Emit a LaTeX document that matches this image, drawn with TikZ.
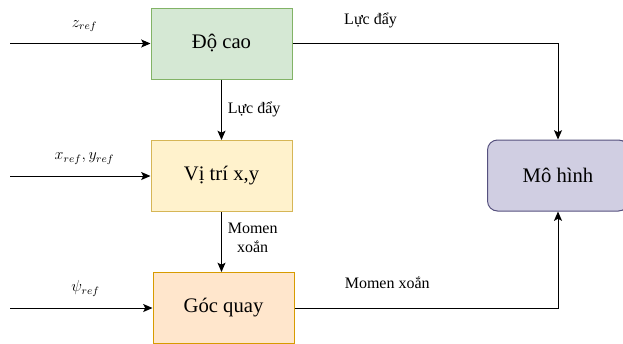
\documentclass[tikz,border=0pt]{standalone}
\usepackage{fontspec}
\setmainfont{Liberation Serif}
\usetikzlibrary{arrows.meta}
\definecolor{greenfill}{HTML}{D5E8D4}
\definecolor{greenline}{HTML}{82B366}
\definecolor{yellowfill}{HTML}{FFF2CC}
\definecolor{yellowline}{HTML}{D6B656}
\definecolor{orangefill}{HTML}{FFE6CC}
\definecolor{orangeline}{HTML}{D79B00}
\definecolor{purplefill}{HTML}{D0CEE2}
\definecolor{purpleline}{HTML}{56517E}
\begin{document}
\begin{tikzpicture}[>={Stealth[length=7pt,width=6pt,inset=1.5pt]}, x=0.75pt, y=-0.75pt,
    block/.style={draw, line width=0.75pt, minimum width=105.75pt,
        minimum height=53.25pt, font=\fontsize{15.5}{18}\selectfont},
    lbl/.style={font=\fontsize{12}{14}\selectfont},
    conn/.style={->, line width=0.75pt}]
    \useasboundingbox (0,0) rectangle (623,343);

    % blocks
    \node[block, fill=greenfill, draw=greenline] (docao) at (221.5,43.5) {Độ cao};
    \node[block, fill=yellowfill, draw=yellowline] (vitri) at (221.5,176) {Vị trí x,y};
    \node[block, fill=orangefill, draw=orangeline] (gocquay) at (223.5,308) {Góc quay};
    \node[block, rounded corners=7.5pt, fill=purplefill, draw=purpleline]
        (mohinh) at (558,175.5) {Mô hình};

    % references
    \coordinate (zin) at (10,43.5);
    \coordinate (xyin) at (10,176);
    \coordinate (psiin) at (10,308);
    \draw[conn] (zin) -- (docao.west)
        node[lbl, pos=0.53, above=5pt] (zlbl) {$z_{ref}$};
    \draw[conn] (xyin) -- (vitri.west)
        node[lbl, pos=0.53, above=5pt] (xylbl) {$x_{ref},y_{ref}$};
    \draw[conn] (psiin) -- (gocquay.west)
        node[lbl, pos=0.53, above=5pt] (psilbl) {$\psi_{ref}$};

    % between blocks
    \draw[conn] (docao) -- (vitri)
        node[lbl, midway, right=1pt] (lucday) {Lực đẩy};
    \draw[conn] (vitri) -- (gocquay.north -| vitri)
        node[lbl, midway, right=1pt, align=center, yshift=3pt] (momen) {Momen\\xoắn};

    % to model
    \draw[conn] (docao.east) -| (mohinh.north)
        node[lbl, pos=0.147, above=8pt] (lucdaytop) {Lực đẩy};
    \draw[conn] (gocquay.east) -| (mohinh.south)
        node[lbl, pos=0.176, above=11pt] (momenbot) {Momen xoắn};

\end{tikzpicture}
\end{document}
